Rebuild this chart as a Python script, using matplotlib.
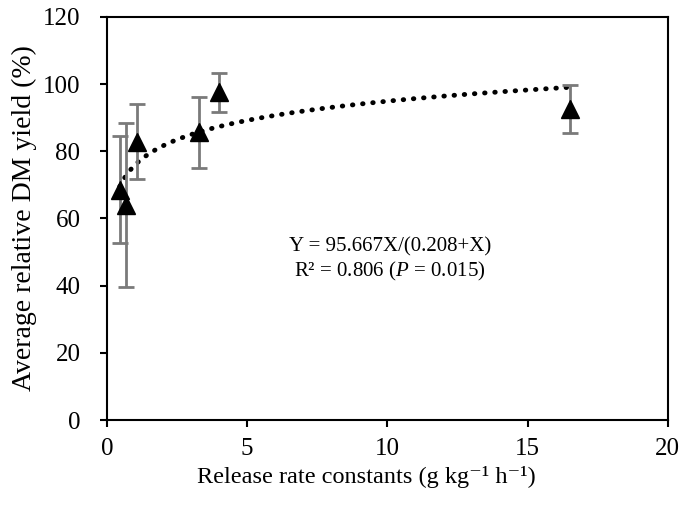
import numpy as np
import matplotlib
matplotlib.use('Agg')
import matplotlib.pyplot as plt

plt.rcParams['font.family'] = ['Liberation Serif', 'DejaVu Serif']
plt.rcParams['mathtext.fontset'] = 'custom'
plt.rcParams['mathtext.rm'] = 'Liberation Serif'
plt.rcParams['mathtext.it'] = 'Liberation Serif:italic'

# data
rate = [0.46, 0.70, 1.08, 3.29, 4.0, 16.5]
dm_yield = [68.6, 64.0, 82.9, 85.6, 97.5, 92.5]
err = [16.0, 24.5, 11.2, 10.5, 5.8, 7.2]

# logarithmic trend line through the points
a, b = np.polyfit(np.log(rate), dm_yield, 1)
xs = np.linspace(min(rate), max(rate), 300)
ys = a * np.log(xs) + b

fig = plt.figure(figsize=(6.85, 5.11), dpi=100)
ax = fig.add_axes([0.156, 0.178, 0.819, 0.789])

ax.plot(xs, ys, color='black', linestyle=(0, (0.1, 2.0)), linewidth=3.5,
        dash_capstyle='round', zorder=2)
ax.errorbar(rate, dm_yield, yerr=err, fmt='none', ecolor='#7a7a7a',
            elinewidth=2, capsize=5.5, capthick=2, zorder=3)
ax.plot(rate, dm_yield, linestyle='none', marker='^', markersize=13,
        color='black', zorder=4)

ax.text(10.1, 51.5, 'Y = 95.667X/(0.208+X)', ha='center', va='center', fontsize=15)
ax.text(10.1, 44.2, 'R² = 0.806 ($\\it{P}$ = 0.015)', ha='center', va='center', fontsize=15)

ax.set_xlim(0, 20)
ax.set_ylim(0, 120)
ax.set_xticks([0, 5, 10, 15, 20])
ax.set_yticks(range(0, 121, 20))
ax.tick_params(direction='out', length=5, width=1.5, labelsize=18)
ax.tick_params(axis='x', pad=8)
ax.tick_params(axis='y', pad=14)
for s in ax.spines.values():
    s.set_linewidth(1.5)

ax.set_xlabel('Release rate constants (g kg⁻¹ h⁻¹)', fontsize=17.5, labelpad=5)
ax.xaxis.set_label_coords(0.463, -0.115)
ax.set_ylabel('Average relative DM yield (%)', fontsize=20, labelpad=4)

fig.savefig('out.png', dpi=100)
